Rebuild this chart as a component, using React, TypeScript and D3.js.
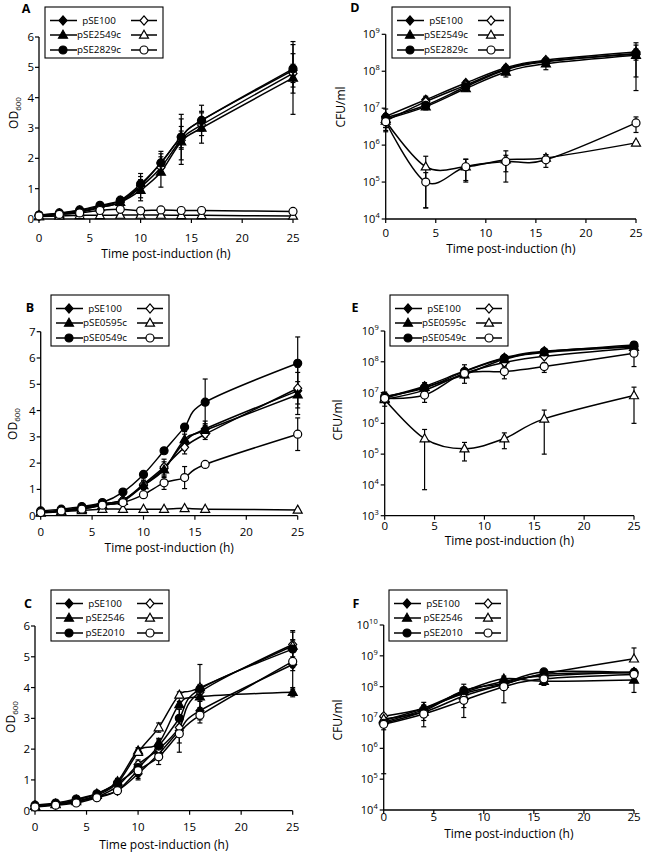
import React from 'react';
import * as d3 from 'd3';

// ---------- data ----------
const timesOD = [0, 2, 4, 6, 8, 10, 12, 14, 16, 25];
const timesCFU = [0, 4, 8, 12, 16, 25];
const xTicks = [0, 5, 10, 15, 20, 25];

const legendA = ['pSE100', 'pSE2549c', 'pSE2829c'];
const legendB = ['pSE100', 'pSE0595c', 'pSE0549c'];
const legendC = ['pSE100', 'pSE2546', 'pSE2010'];

// series order: filled diamond, open diamond, filled triangle, open triangle, filled circle, open circle
const odA = [
  [0.1, 0.18, 0.28, 0.42, 0.6, 1.1, 1.85, 2.7, 3.25, 4.9],
  [0.12, 0.18, 0.25, 0.38, 0.55, 1.05, 1.7, 2.6, 3.1, 4.8],
  [0.08, 0.15, 0.22, 0.38, 0.55, 0.95, 1.55, 2.55, 3.0, 4.65],
  [0.08, 0.1, 0.12, 0.12, 0.13, 0.13, 0.13, 0.12, 0.12, 0.1],
  [0.13, 0.2, 0.3, 0.45, 0.62, 1.15, 1.85, 2.7, 3.25, 4.95],
  [0.1, 0.15, 0.2, 0.28, 0.32, 0.27, 0.3, 0.28, 0.28, 0.25],
];
const odAErr = [
  [0.02, 0.02, 0.03, 0.04, 0.06, 0.4, 0.38, 0.75, 0.5, 0.55],
  [0.02, 0.02, 0.03, 0.04, 0.05, 0.15, 0.15, 0.3, 0.2, 0.3],
  [0.02, 0.02, 0.03, 0.04, 0.06, 0.35, 0.5, 0.75, 0.5, 1.2],
  [0.02, 0.02, 0.02, 0.02, 0.02, 0.02, 0.02, 0.02, 0.02, 0.02],
  [0.02, 0.02, 0.03, 0.04, 0.06, 0.25, 0.3, 0.35, 0.3, 0.8],
  [0.03, 0.03, 0.03, 0.03, 0.03, 0.03, 0.03, 0.03, 0.03, 0.03],
];

const odB = [
  [0.15, 0.2, 0.3, 0.45, 0.6, 1.15, 1.8, 2.8, 3.3, 4.75],
  [0.15, 0.2, 0.3, 0.45, 0.6, 1.2, 1.85, 2.6, 3.1, 4.85],
  [0.12, 0.18, 0.25, 0.4, 0.55, 1.15, 1.75, 2.9, 3.25, 4.6],
  [0.1, 0.15, 0.2, 0.25, 0.25, 0.25, 0.25, 0.28, 0.25, 0.22],
  [0.18, 0.25, 0.35, 0.5, 0.9, 1.57, 2.47, 3.37, 4.32, 5.8],
  [0.12, 0.18, 0.25, 0.4, 0.5, 0.8, 1.25, 1.45, 1.95, 3.1],
];
const odBErr = [
  [0.02, 0.03, 0.03, 0.05, 0.08, 0.15, 0.35, 0.3, 0.3, 0.9],
  [0.02, 0.03, 0.03, 0.05, 0.08, 0.15, 0.2, 0.25, 0.2, 0.6],
  [0.02, 0.02, 0.03, 0.04, 0.05, 0.15, 0.2, 0.3, 0.25, 0.5],
  [0.02, 0.02, 0.02, 0.02, 0.02, 0.02, 0.02, 0.02, 0.02, 0.02],
  [0.02, 0.03, 0.04, 0.05, 0.08, 0.1, 0.1, 0.1, 0.88, 1.0],
  [0.02, 0.02, 0.03, 0.04, 0.05, 0.08, 0.25, 0.42, 0.1, 0.62],
];

const odC = [
  [0.15, 0.2, 0.3, 0.45, 0.65, 1.2, 1.85, 2.6, 3.25, 4.75],
  [0.15, 0.2, 0.3, 0.45, 0.8, 1.5, 2.0, 2.7, 3.85, 5.4],
  [0.15, 0.22, 0.35, 0.55, 0.95, 1.95, 2.2, 3.45, 3.7, 3.85],
  [0.15, 0.2, 0.3, 0.5, 0.9, 1.9, 2.7, 3.76, 4.0, 5.35],
  [0.18, 0.25, 0.38, 0.55, 0.9, 1.4, 2.1, 3.0, 3.95, 5.25],
  [0.12, 0.18, 0.25, 0.42, 0.65, 1.3, 1.75, 2.5, 3.1, 4.85],
];
const odCErr = [
  [0.02, 0.03, 0.04, 0.05, 0.1, 0.15, 0.2, 0.7, 0.3, 0.8],
  [0.02, 0.03, 0.04, 0.05, 0.1, 0.15, 0.2, 0.2, 0.2, 0.4],
  [0.02, 0.03, 0.04, 0.05, 0.1, 0.1, 0.15, 0.1, 0.1, 0.15],
  [0.02, 0.03, 0.04, 0.05, 0.1, 0.1, 0.15, 0.1, 0.1, 0.2],
  [0.02, 0.03, 0.04, 0.05, 0.1, 0.15, 0.2, 0.3, 0.8, 0.6],
  [0.02, 0.03, 0.04, 0.05, 0.1, 0.3, 0.25, 0.3, 0.25, 0.3],
];

const cfuD = [
  [6e6, 1.7e7, 4.8e7, 1.25e8, 2.0e8, 3.3e8],
  [4.5e6, 1.5e7, 4.2e7, 1.15e8, 1.9e8, 2.9e8],
  [5e6, 1.1e7, 3.4e7, 9.5e7, 1.6e8, 2.7e8],
  [4.5e6, 2.6e5, 2.6e5, 4.0e5, 4.5e5, 1.15e6],
  [5.5e6, 1.2e7, 3.8e7, 1.1e8, 1.8e8, 3.0e8],
  [4.3e6, 1.0e5, 2.6e5, 3.6e5, 4.0e5, 4.0e6],
];
const cfuDErr = [
  [3.5e6, 4e6, 8e6, 2e7, 3e7, 2.6e8],
  [1.5e6, 3e6, 6e6, 1.5e7, 2e7, 5e7],
  [2e6, 2e6, 5e6, 2.5e7, 5e7, 2.4e8],
  [1.5e6, 2.4e5, 1.6e5, 3e5, 1e5, 1e5],
  [1.5e6, 2e6, 5e6, 1.5e7, 2e7, 1e8],
  [2e6, 8e4, 1.5e5, 1.7e5, 1.5e5, 1.8e6],
];

const cfuE = [
  [7.0e6, 1.6e7, 5.0e7, 1.35e8, 2.2e8, 3.2e8],
  [6e6, 1.2e7, 4.2e7, 9.5e7, 1.5e8, 2.8e8],
  [6.5e6, 1.5e7, 3.8e7, 1.2e8, 2.0e8, 3.0e8],
  [6e6, 3.2e5, 1.5e5, 3.2e5, 1.4e6, 8e6],
  [7.5e6, 1.4e7, 4.8e7, 1.3e8, 2.1e8, 3.5e8],
  [6.5e6, 8.3e6, 4.2e7, 4.8e7, 7.0e7, 1.9e8],
];
const cfuEErr = [
  [3.4e6, 5e6, 3e7, 2e7, 3e7, 8e7],
  [1e6, 3e6, 1e7, 2e7, 2e7, 5e7],
  [1e6, 3e6, 8e6, 2e7, 3e7, 6e7],
  [1e6, 3.13e5, 0.9e5, 1.7e5, 1.3e6, 7e6],
  [1e6, 3e6, 8e6, 2e7, 4e7, 1e8],
  [1e6, 3.5e6, 1e7, 2e7, 2.5e7, 1.2e8],
];

const cfuF = [
  [7e6, 1.8e7, 6.5e7, 1.5e8, 2.2e8, 3.0e8],
  [1.1e7, 2.0e7, 6e7, 1.2e8, 2.5e8, 2.8e8],
  [8e6, 2.0e7, 7e7, 1.8e8, 1.5e8, 1.65e8],
  [9e6, 1.5e7, 5e7, 1.2e8, 2.6e8, 8.0e8],
  [6.5e6, 1.6e7, 7.5e7, 1.3e8, 3.0e8, 2.9e8],
  [6e6, 1.3e7, 3.6e7, 1.0e8, 1.8e8, 2.5e8],
];
const cfuFErr = [
  [2e6, 1.3e7, 5.5e7, 3e7, 5e7, 8e7],
  [2e6, 5e6, 2e7, 3e7, 5e7, 5e7],
  [2e6, 5e6, 2e7, 4e7, 4e7, 1e8],
  [2e6, 5e6, 2e7, 3e7, 5e7, 1e9],
  [6.35e6, 5e6, 2e7, 4e7, 5e7, 5e7],
  [2e6, 5e6, 1.5e7, 7e7, 4e7, 5e7],
];

const odTicksA = [0, 1, 2, 3, 4, 5, 6];
const odTicksB = [0, 1, 2, 3, 4, 5, 6, 7];
const expTicksD = [4, 5, 6, 7, 8, 9];
const expTicksE = [3, 4, 5, 6, 7, 8, 9];
const expTicksF = [4, 5, 6, 7, 8, 9, 10];

const markerTypes = ['diamond', 'diamond', 'triangle', 'triangle', 'circle', 'circle'];
const markerFilled = [true, false, true, false, true, false];

// ---------- drawing ----------
const FONT = "'Open Sans', 'Liberation Sans', sans-serif";

function Marker({ type, filled, x, y }: { type: string; filled: boolean; x: number; y: number }) {
  const fill = filled ? '#000' : '#fff';
  if (type === 'circle')
    return <circle cx={x} cy={y} r={4} fill={fill} stroke="#000" strokeWidth={1.2} />;
  if (type === 'triangle')
    return (
      <path
        d={`M${x},${y - 4.8}L${x + 4.5},${y + 3.2}L${x - 4.5},${y + 3.2}Z`}
        fill={fill}
        stroke="#000"
        strokeWidth={1.2}
      />
    );
  return (
    <path
      d={`M${x},${y - 4.6}L${x + 4},${y}L${x},${y + 4.6}L${x - 4},${y}Z`}
      fill={fill}
      stroke="#000"
      strokeWidth={1.2}
    />
  );
}

type Cfg = {
  letter: string;
  lx: number;
  ly: number;
  x0: number;
  x1: number;
  yb: number;
  yt: number;
  log: boolean;
  domain: [number, number];
  tickLabelY: number;
  titleY: number;
  yTitleX: number;
  yTitleY: number;
  legX: number;
  legY: number;
};

function Panel({
  cfg,
  times,
  values,
  errs,
  labels,
  yTicks,
}: {
  cfg: Cfg;
  times: number[];
  values: number[][];
  errs: number[][];
  labels: string[];
  yTicks: number[];
}) {
  const x = d3.scaleLinear().domain([0, 25]).range([cfg.x0, cfg.x1]);
  const y = cfg.log
    ? d3.scaleLog().domain(cfg.domain).range([cfg.yb, cfg.yt])
    : d3.scaleLinear().domain(cfg.domain).range([cfg.yb, cfg.yt]);
  const line = d3
    .line<number>()
    .x((_, i) => x(times[i]))
    .y((d) => y(d))
    .curve(d3.curveCatmullRom.alpha(0));

  const legW = 118;
  const legH = 51;
  const rowY = [13.5, 28, 43];

  return (
    <g fontFamily={FONT}>
      <text x={cfg.lx} y={cfg.ly} fontSize={12.5} fontWeight="bold" textAnchor="middle">
        {cfg.letter}
      </text>
      {/* axes */}
      <line x1={cfg.x0} x2={cfg.x0} y1={cfg.yb} y2={cfg.yt} stroke="#000" strokeWidth={1.3} />
      <line x1={cfg.x0} x2={cfg.x1} y1={cfg.yb} y2={cfg.yb} stroke="#000" strokeWidth={1.3} />
      {yTicks.map((t) => {
        const v = cfg.log ? Math.pow(10, t) : t;
        const yy = y(v);
        return (
          <g key={'y' + t}>
            <line x1={cfg.x0 - 4} x2={cfg.x0} y1={yy} y2={yy} stroke="#000" strokeWidth={1.2} />
            {cfg.log ? (
              <text x={cfg.x0 - 6} y={yy + 4} fontSize={11} textAnchor="end">
                10<tspan dy={-5} fontSize={7.5}>{t}</tspan>
              </text>
            ) : (
              <text x={cfg.x0 - 5} y={yy + 4} fontSize={11.5} textAnchor="end">
                {t}
              </text>
            )}
          </g>
        );
      })}
      {xTicks.map((t) => (
        <g key={'x' + t}>
          <line x1={x(t)} x2={x(t)} y1={cfg.yb} y2={cfg.yb + 4} stroke="#000" strokeWidth={1.2} />
          <text x={x(t)} y={cfg.tickLabelY + 4} fontSize={11.5} textAnchor="middle">
            {t}
          </text>
        </g>
      ))}
      <text x={(cfg.x0 + cfg.x1) / 2} y={cfg.titleY + 4} fontSize={12} textAnchor="middle">
        Time post-induction (h)
      </text>
      <text
        transform={`translate(${cfg.yTitleX + 4},${cfg.yTitleY}) rotate(-90)`}
        fontSize={12}
        textAnchor="middle"
      >
        {cfg.log ? (
          'CFU/ml'
        ) : (
          <>
            OD<tspan dy={3} fontSize={8}>600</tspan>
          </>
        )}
      </text>
      {/* lines */}
      {values.map((s, i) => (
        <path key={'l' + i} d={line(s) || ''} fill="none" stroke="#000" strokeWidth={1.5} />
      ))}
      {/* error bars */}
      {values.map((s, i) =>
        s.map((v, j) => {
          const e = errs[i][j];
          const hi = y(v + e);
          const lo = v - e;
          let loY: number;
          if (cfg.log) {
            loY = lo <= 0 ? y(v) : y(Math.max(lo, cfg.domain[0]));
          } else {
            loY = y(Math.max(lo, cfg.domain[0]));
          }
          const xx = x(times[j]);
          return (
            <g key={'e' + i + '-' + j} stroke="#000" strokeWidth={1.2}>
              <line x1={xx} x2={xx} y1={hi} y2={loY} />
              <line x1={xx - 2.5} x2={xx + 2.5} y1={hi} y2={hi} />
              {loY !== y(v) && <line x1={xx - 2.5} x2={xx + 2.5} y1={loY} y2={loY} />}
            </g>
          );
        })
      )}
      {/* markers */}
      {values.map((s, i) =>
        s.map((v, j) => (
          <Marker key={'m' + i + '-' + j} type={markerTypes[i]} filled={markerFilled[i]} x={x(times[j])} y={y(v)} />
        ))
      )}
      {/* legend */}
      <rect x={cfg.legX} y={cfg.legY} width={legW} height={legH} fill="#fff" stroke="#000" strokeWidth={1.1} />
      {labels.map((lab, r) => {
        const yy = cfg.legY + rowY[r];
        const L = cfg.legX;
        return (
          <g key={'lg' + r}>
            <line x1={L + 5} x2={L + 32} y1={yy} y2={yy} stroke="#000" strokeWidth={1.5} />
            <Marker type={markerTypes[2 * r]} filled={true} x={L + 18} y={yy} />
            <text x={L + 54} y={yy + 3.4} fontSize={9.8} textAnchor="middle">
              {lab}
            </text>
            <line x1={L + 86} x2={L + 112} y1={yy} y2={yy} stroke="#000" strokeWidth={1.5} />
            <Marker type={markerTypes[2 * r + 1]} filled={false} x={L + 99} y={yy} />
          </g>
        );
      })}
    </g>
  );
}

const cfgA: Cfg = { letter: 'A', lx: 26, ly: 13, x0: 39, x1: 293, yb: 219, yt: 37, log: false, domain: [0, 6], tickLabelY: 238, titleY: 254, yTitleX: 14, yTitleY: 113, legX: 45, legY: 7 };
const cfgB: Cfg = { letter: 'B', lx: 30, ly: 312, x0: 40.7, x1: 297.7, yb: 515.7, yt: 331.7, log: false, domain: [0, 7], tickLabelY: 532, titleY: 548, yTitleX: 13, yTitleY: 424, legX: 51, legY: 295 };
const cfgC: Cfg = { letter: 'C', lx: 28, ly: 608, x0: 35, x1: 292.7, yb: 810.7, yt: 626, log: false, domain: [0, 6], tickLabelY: 827, titleY: 845, yTitleX: 11, yTitleY: 717, legX: 51, legY: 590 };
const cfgD: Cfg = { letter: 'D', lx: 355, ly: 12, x0: 385.7, x1: 636, yb: 219, yt: 34.3, log: true, domain: [1e4, 1e9], tickLabelY: 233, titleY: 249, yTitleX: 341, yTitleY: 107, legX: 392, legY: 7 };
const cfgE: Cfg = { letter: 'E', lx: 355, ly: 312, x0: 384.7, x1: 634, yb: 515.7, yt: 331, log: true, domain: [1e3, 1e9], tickLabelY: 526, titleY: 541, yTitleX: 338, yTitleY: 420, legX: 390, legY: 295 };
const cfgF: Cfg = { letter: 'F', lx: 356, ly: 608, x0: 383.7, x1: 634, yb: 810, yt: 625, log: true, domain: [1e4, 1e10], tickLabelY: 817, titleY: 834, yTitleX: 338, yTitleY: 720, legX: 389, legY: 590 };

export default function App() {
  return (
    <svg
      width={646}
      height={855}
      style={{ position: 'absolute', left: 0, top: 0, background: '#fff' }}
    >
      <rect width={646} height={855} fill="#fff" />
      <Panel cfg={cfgA} times={timesOD} values={odA} errs={odAErr} labels={legendA} yTicks={odTicksA} />
      <Panel cfg={cfgB} times={timesOD} values={odB} errs={odBErr} labels={legendB} yTicks={odTicksB} />
      <Panel cfg={cfgC} times={timesOD} values={odC} errs={odCErr} labels={legendC} yTicks={odTicksA} />
      <Panel cfg={cfgD} times={timesCFU} values={cfuD} errs={cfuDErr} labels={legendA} yTicks={expTicksD} />
      <Panel cfg={cfgE} times={timesCFU} values={cfuE} errs={cfuEErr} labels={legendB} yTicks={expTicksE} />
      <Panel cfg={cfgF} times={timesCFU} values={cfuF} errs={cfuFErr} labels={legendC} yTicks={expTicksF} />
    </svg>
  );
}
